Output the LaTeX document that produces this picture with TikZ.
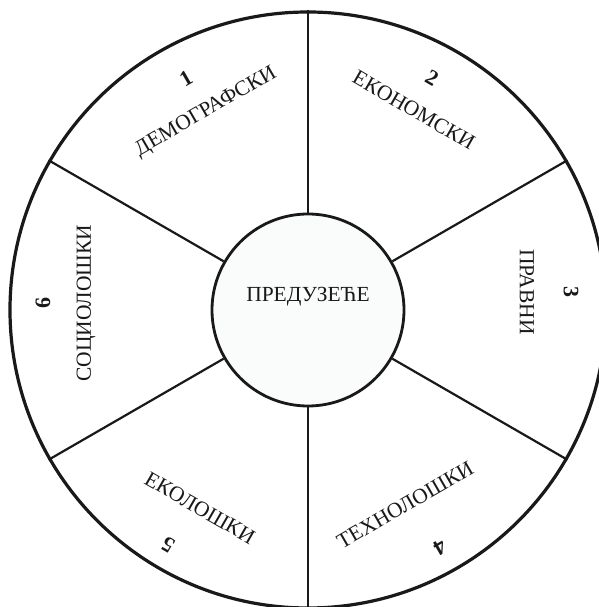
\documentclass[tikz,border=0pt]{standalone}
\usepackage{fontspec}
\setmainfont{Liberation Serif}
\usepackage{tikz}
\usetikzlibrary{positioning}
\definecolor{hubfill}{RGB}{250,252,252}

\begin{document}
\begin{tikzpicture}[x=1pt, y=1pt,
    hub/.style={circle, draw=black!90, line width=2.8pt, fill=hubfill, minimum size=192pt, inner sep=0pt},
    rim/.style={circle, draw=black!90, line width=3.2pt, minimum size=596pt, inner sep=0pt},
    spoke/.style={line width=2.2pt, draw=black!90},
    factor/.style={font=\fontsize{21.5}{24}\selectfont, text=black!90, inner sep=0pt},
    number/.style={font=\fontsize{22}{24}\selectfont\bfseries, text=black!90, inner sep=0pt}
]
\useasboundingbox (-308,-297) rectangle (290,310);

% Define the outer ring and the company in the middle
\node[rim] (env) at (0,0) {};
\node[hub] (firm) at (0,0) {};
\node[factor] (firm-text) at (0,13) {ПРЕДУЗЕЋЕ};

% Draw spokes to split the ring into six sectors
\draw[spoke] (firm.90) -- (env.90);
\draw[spoke] (firm.30) -- (env.30);
\draw[spoke] (firm.-30) -- (env.-30);
\draw[spoke] (firm.-90) -- (env.-90);
\draw[spoke] (firm.-150) -- (env.-150);
\draw[spoke] (firm.150) -- (env.150);

% Add sector labels with their numbers
\node[number, rotate=30] (num1) at (-122,232) {1};
\node[factor, rotate=30] (demo) at (-102,198) {ДЕМОГРАФСКИ};
\node[number, rotate=-30] (num2) at (124,232) {2};
\node[factor, rotate=-30] (econ) at (106,200) {ЕКОНОМСКИ};
\node[number, rotate=-90] (num3) at (263,18) {3};
\node[factor, rotate=-90] (legal) at (219,18) {ПРАВНИ};
\node[number, rotate=-150] (num4) at (132,-238) {4};
\node[factor, rotate=30] (tech) at (97,-195) {ТЕХНОЛОШКИ};
\node[number, rotate=150] (num5) at (-140,-235) {5};
\node[factor, rotate=-30] (eco) at (-108,-198) {ЕКОЛОШКИ};
\node[number, rotate=90] (num6) at (-265,7) {6};
\node[factor, rotate=90] (socio) at (-222,7) {СОЦИОЛОШКИ};

\end{tikzpicture}
\end{document}
